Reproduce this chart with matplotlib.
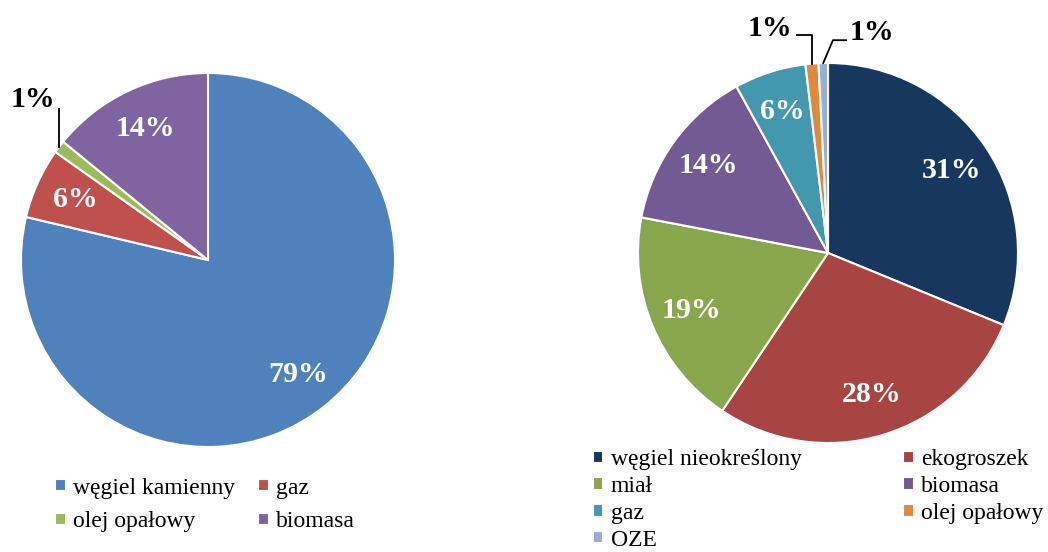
import matplotlib.pyplot as plt
import numpy as np

plt.rcParams["font.family"] = ["Liberation Serif", "DejaVu Serif"]

# ── data ───────────────────────────────────────────────────────────────────────
left_labels = ["węgiel kamienny", "gaz", "olej opałowy", "biomasa"]
left_values = [78.7, 6.1, 1.1, 14.1]
left_colors = ["#4F81BD", "#C0504D", "#9BBB59", "#8064A2"]

right_labels = ["węgiel nieokreślony", "ekogroszek", "miał", "biomasa",
                "gaz", "olej opałowy", "OZE"]
right_values = [31.2, 28.2, 18.6, 14.0, 6.1, 1.1, 0.8]
right_colors = ["#17375E", "#A84441", "#88A64C", "#735A94",
                "#4298AE", "#E0893B", "#95AFD8"]

W, H = 1048, 552
fig = plt.figure(figsize=(W / 100, H / 100), dpi=100)
LIM = 1.05


def pie_axes(cx, cy, r):
    size = 2 * r * LIM
    ax = fig.add_axes([(cx - size / 2) / W, 1 - (cy + size / 2) / H, size / W, size / H])
    return ax


def draw_pie(ax, values, colors, pctdist):
    wedges, _ = ax.pie(values, colors=colors, startangle=90, counterclock=False,
                       wedgeprops=dict(edgecolor="white", linewidth=1.5))
    ax.set_xlim(-LIM, LIM)
    ax.set_ylim(-LIM, LIM)
    ax.set_aspect("equal")
    ax.axis("off")
    for w, v in zip(wedges, values):
        w.set_clip_on(False)
        if v < 3:
            continue
        mid = np.deg2rad((w.theta1 + w.theta2) / 2)
        ax.text(pctdist * np.cos(mid), pctdist * np.sin(mid), f"{round(v)}%",
                ha="center", va="center", color="white", fontsize=21.5,
                fontweight="bold")
    return wedges


def mid_point(w):
    mid = np.deg2rad((w.theta1 + w.theta2) / 2)
    return np.cos(mid), np.sin(mid)


# ── left pie ───────────────────────────────────────────────────────────────────
axl = pie_axes(208, 260, 187)
wl = draw_pie(axl, left_values, left_colors, 0.78)
xa, ya = mid_point(wl[2])
axl.plot([xa, xa], [ya, 0.81], color="black", lw=1.3, clip_on=False)
axl.text(xa - 0.02, 0.86, f"{round(left_values[2])}%", ha="right", va="center",
         fontsize=21.5, fontweight="bold")

order = [0, 2, 1, 3]
fig.legend([wl[i] for i in order], [left_labels[i] for i in order],
           loc="center", bbox_to_anchor=(205 / W, 1 - 505 / H), ncol=2,
           frameon=False, fontsize=17, handlelength=0.45, handleheight=0.45,
           handletextpad=0.3, columnspacing=1.0, labelspacing=0.55)

# ── right pie ──────────────────────────────────────────────────────────────────
axr = pie_axes(828, 253, 190)
wr = draw_pie(axr, right_values, right_colors, 0.78)

xa, ya = mid_point(wr[5])
axr.plot([xa, xa, -0.163], [ya, 1.147, 1.147], color="black", lw=1.3, clip_on=False)
axr.text(-0.19, 1.18, f"{round(right_values[5])}%", ha="right", va="center",
         fontsize=21.5, fontweight="bold")

xa, ya = mid_point(wr[6])
axr.plot([xa, 0.026, 0.095], [ya, 1.12, 1.12], color="black", lw=1.3, clip_on=False)
axr.text(0.116, 1.16, f"{round(right_values[6])}%", ha="left", va="center",
         fontsize=21.5, fontweight="bold")

order = [0, 2, 4, 6, 1, 3, 5]
fig.legend([wr[i] for i in order], [right_labels[i] for i in order],
           loc="center", bbox_to_anchor=(818 / W, 1 - 500 / H), ncol=2,
           frameon=False, fontsize=17, handlelength=0.45, handleheight=0.45,
           handletextpad=0.3, columnspacing=4.3, labelspacing=0.24,
           borderpad=0.1)

fig.savefig("out.png", dpi=100)
